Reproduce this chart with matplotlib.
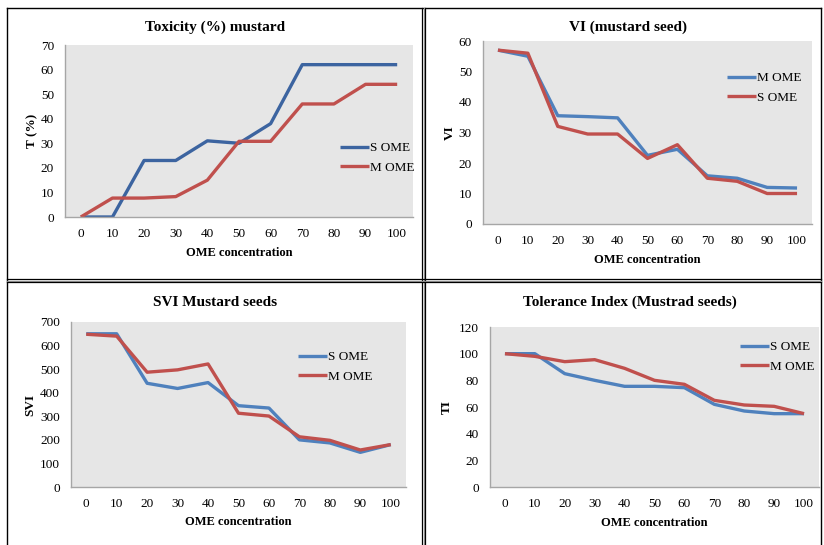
import matplotlib
matplotlib.use("Agg")
import matplotlib.pyplot as plt
from matplotlib.lines import Line2D

plt.rcParams['font.family'] = ['Liberation Serif', 'DejaVu Serif']

W, H = 824, 545

conc = ['0', '10', '20', '30', '40', '50', '60', '70', '80', '90', '100']

# Toxicity (%)
tox_s = [0, 0, 23, 23, 31, 30, 38, 62, 62, 62, 62]
tox_m = [0, 7.7, 7.7, 8.3, 15, 30.8, 30.8, 46, 46, 54, 54]

# VI
vi_m = [57, 55, 35.5, 35.2, 34.8, 22.5, 24.5, 15.8, 15, 12, 11.8]
vi_s = [57, 56, 32, 29.5, 29.5, 21.5, 26, 15, 14, 10, 10]

# SVI
svi_s = [650, 650, 440, 418, 443, 345, 335, 200, 187, 147, 180]
svi_m = [648, 640, 487, 497, 522, 313, 301, 213, 198, 157, 180]

# Tolerance index
ti_s = [100, 100, 85, 80, 75.5, 75.5, 74.5, 62, 57, 55, 55]
ti_m = [100, 98, 94, 95.5, 89, 80, 77, 65, 61.5, 60.5, 55]

BLUE = '#4F81BD'
DARKBLUE = '#3C64A0'
RED = '#C0504D'
BG = '#E6E6E6'


def box(x0, y0, x1, y1):
    return [x0 / W, 1 - y1 / H, (x1 - x0) / W, (y1 - y0) / H]


def fx(x):
    return x / W


def fy(y):
    return 1 - y / H


fig = plt.figure(figsize=(W / 100, H / 100), dpi=100)
fig.patch.set_facecolor('white')

panels = [
    dict(ax=(65, 45, 413, 217), title='Toxicity (%) mustard', ylabel='T (%)',
         ylim=70, step=10,
         series=[(tox_s, 'S OME', DARKBLUE), (tox_m, 'M OME', RED)],
         leg=(340, 158), tx=(215, 27), xl_y=253, yl_x=32),
    dict(ax=(483, 41, 812, 224), title='VI (mustard seed)', ylabel='VI',
         ylim=60, step=10,
         series=[(vi_m, 'M OME', BLUE), (vi_s, 'S OME', RED)],
         leg=(727, 88), tx=(628, 27), xl_y=260, yl_x=450),
    dict(ax=(71, 322, 406, 487), title='SVI Mustard seeds', ylabel='SVI',
         ylim=700, step=100,
         series=[(svi_s, 'S OME', BLUE), (svi_m, 'M OME', RED)],
         leg=(298, 367), tx=(215, 302), xl_y=522, yl_x=30),
    dict(ax=(490, 327, 819, 487), title='Tolerance Index (Mustrad seeds)', ylabel='TI',
         ylim=120, step=20,
         series=[(ti_s, 'S OME', BLUE), (ti_m, 'M OME', RED)],
         leg=(740, 357), tx=(630, 302), xl_y=523, yl_x=447),
]

for p in panels:
    ax = fig.add_axes(box(*p['ax']))
    ax.set_facecolor(BG)
    x = range(len(conc))
    handles = []
    for vals, lab, col in p['series']:
        ln, = ax.plot(x, vals, color=col, lw=2.4, label=lab, solid_capstyle='butt')
        handles.append(ln)
    ax.set_xlim(-0.5, len(conc) - 0.5)
    ax.set_ylim(0, p['ylim'])
    ax.set_yticks(range(0, p['ylim'] + 1, p['step']))
    ax.set_xticks(list(x))
    ax.set_xticklabels(conc)
    ax.tick_params(length=0, labelsize=9.5, pad=8)
    ax.tick_params(axis='y', pad=8)
    for s in ['top', 'right']:
        ax.spines[s].set_visible(False)
    for s in ['left', 'bottom']:
        ax.spines[s].set_color('#A6A6A6')
        ax.spines[s].set_linewidth(1)
    fig.text(fx(p['tx'][0]), fy(p['tx'][1]), p['title'], ha='center', va='center',
             fontsize=11, fontweight='bold')
    x0, _, x1, _ = p['ax']
    fig.text(fx((x0 + x1) / 2), fy(p['xl_y']), 'OME concentration', ha='center',
             va='center', fontsize=9, fontweight='bold')
    fig.text(fx(p['yl_x']), fy((p['ax'][1] + p['ax'][3]) / 2), p['ylabel'],
             ha='center', va='center', rotation=90, fontsize=9.5, fontweight='bold')
    ax.legend(handles=handles, loc='center left',
              bbox_to_anchor=(fx(p['leg'][0]), fy(p['leg'][1])),
              bbox_transform=fig.transFigure, frameon=False, fontsize=9.5,
              handlelength=2.2, handletextpad=0.1, borderpad=0, borderaxespad=0,
              labelspacing=0.55)


# panel borders (double lines like the source document)
def hline(y, x0, x1):
    for dy, c in [(0, 'black'), (1.5, '#9A9A9A'), (3, 'black')]:
        fig.add_artist(Line2D([fx(x0), fx(x1)], [fy(y + dy), fy(y + dy)],
                              color=c, lw=0.9))


def vline(x, y0, y1):
    for dx, c in [(0, 'black'), (1.5, '#9A9A9A'), (3, 'black')]:
        fig.add_artist(Line2D([fx(x + dx), fx(x + dx)], [fy(y0), fy(y1)],
                              color=c, lw=0.9))


fig.add_artist(Line2D([fx(7), fx(821)], [fy(8), fy(8)], color='black', lw=1))
fig.add_artist(Line2D([fx(7), fx(7)], [fy(8), fy(545)], color='black', lw=1))
fig.add_artist(Line2D([fx(821), fx(821)], [fy(8), fy(545)], color='black', lw=1))
vline(422, 8, 545)
hline(279, 7, 821)

fig.savefig('out.png', dpi=100)
